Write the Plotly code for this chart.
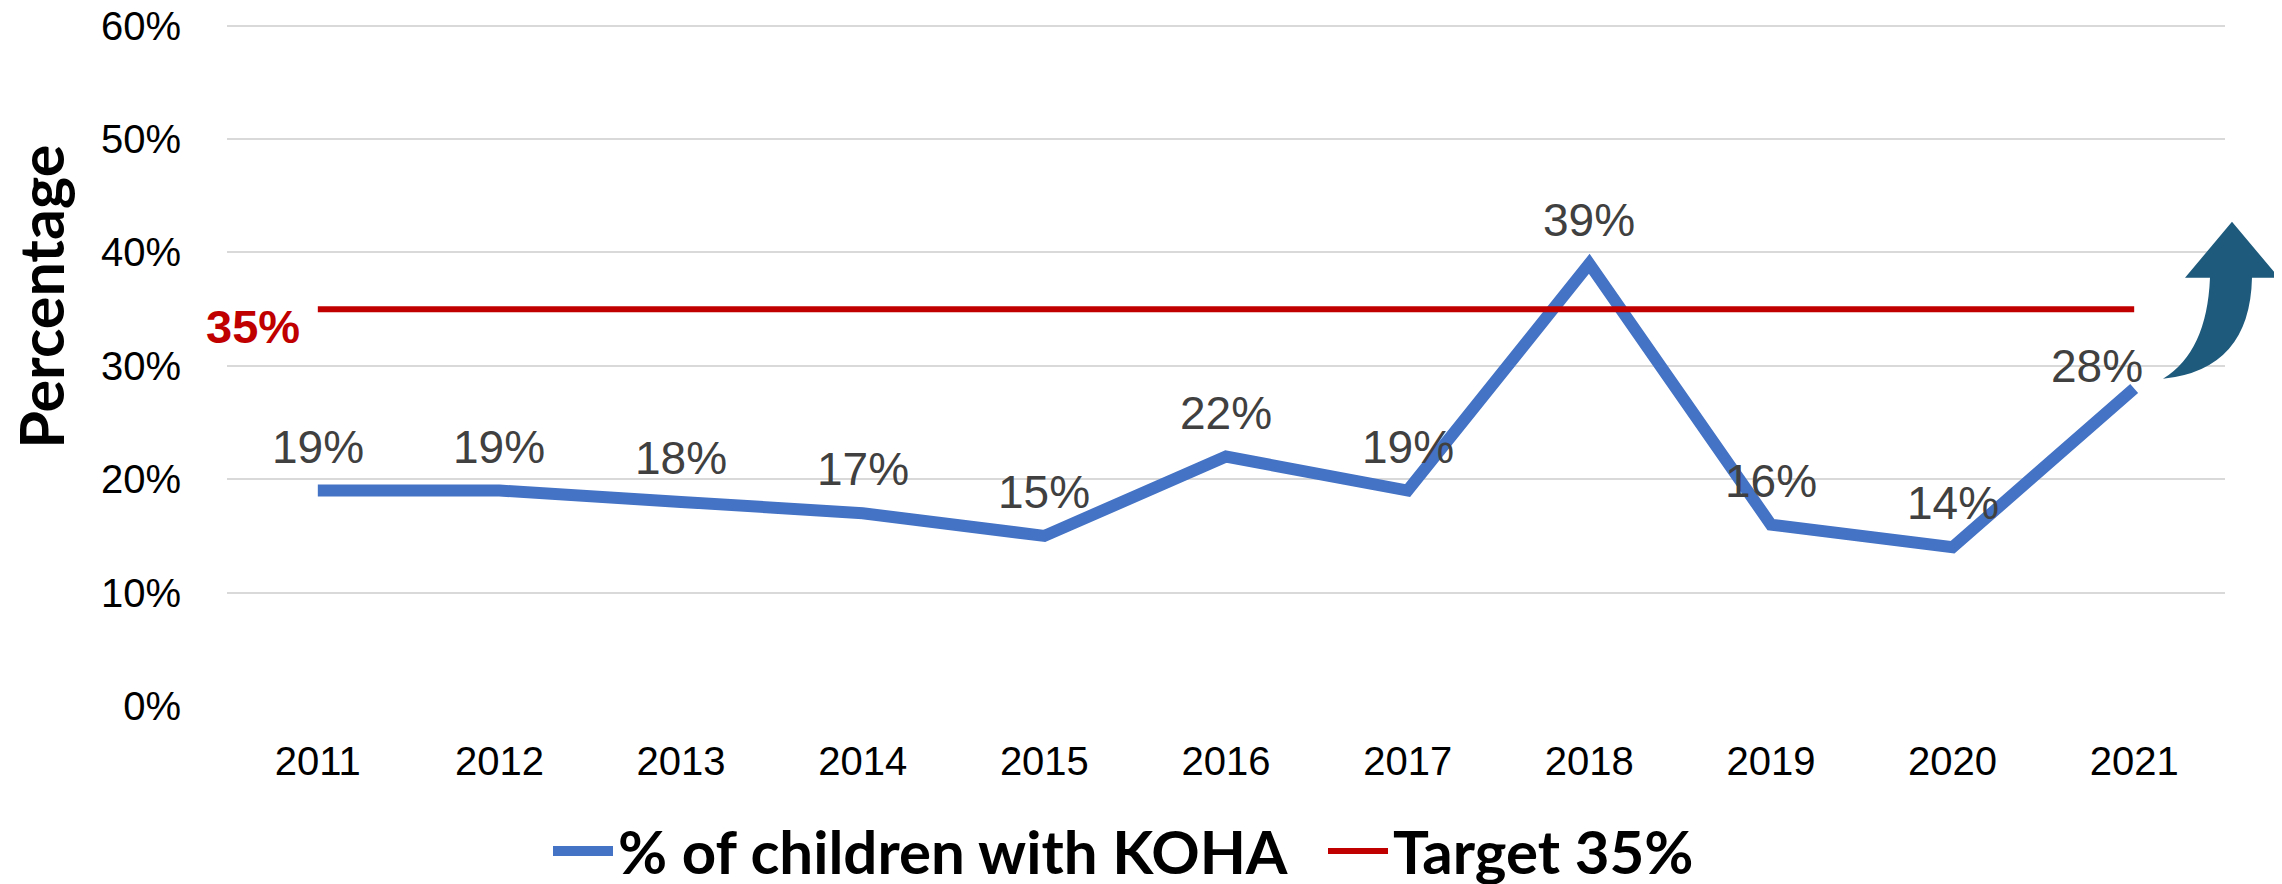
import plotly.graph_objects as go

years = [2011, 2012, 2013, 2014, 2015, 2016, 2017, 2018, 2019, 2020, 2021]
koha_pct = [19, 19, 18, 17, 15, 22, 19, 39, 16, 14, 28]
target_pct = [35] * len(years)
y_ticks = [0, 10, 20, 30, 40, 50, 60]
y_tick_labels = [f"{v}%" for v in y_ticks]

# page is 2282x884, the html body has an 8px margin -> compensate
OFF = 8
W, H = 2282 - OFF, 884 - OFF
Y_TOP = 60.5                     # a little headroom so the 60% gridline is drawn
PX_PER_UNIT = (706 - 26) / 60.0  # 0% at page y=706, 60% at page y=26
L, R, B = 227 - OFF, 57, 178
T = 26 - OFF - (Y_TOP - 60) * PX_PER_UNIT
PW, PH = W - L - R, H - T - B

def px_to_paper(px, py):
    """page pixel -> paper coordinate"""
    fx, fy = px - OFF, py - OFF
    return (fx - L) / PW, (H - B - fy) / PH

BLUE = "#4472C4"
RED = "#C00000"
ARROW = "#1D5A7C"

fig = go.Figure()
fig.add_trace(go.Scatter(
    x=years, y=koha_pct, mode="lines", name="% of children with KOHA",
    line=dict(color=BLUE, width=12), hoverinfo="x+y",
))
fig.add_trace(go.Scatter(
    x=years, y=target_pct, mode="lines", name="Target 35%",
    line=dict(color=RED, width=6), hoverinfo="x+y",
))

# data labels
for i, (yr, v) in enumerate(zip(years, koha_pct)):
    last = i == len(years) - 1
    fig.add_annotation(
        x=yr, y=v, xref="x", yref="y", text=f"{v}%", showarrow=False,
        xanchor="center", yanchor="middle",
        xshift=-37 if last else 0, yshift=23 if last else 44,
        font=dict(family="Liberation Sans, Arial", size=46, color="#404040"),
    )

# target label
fig.add_annotation(
    x=years[0], y=target_pct[0], xref="x", yref="y", text="<b>35%</b>",
    showarrow=False, xanchor="right", yanchor="middle", xshift=-16, yshift=-17,
    font=dict(family="Liberation Sans, Arial", size=47, color=RED),
)

# y axis title
tx, ty = px_to_paper(41, 297)
fig.add_annotation(
    x=tx, y=ty, xref="paper", yref="paper", text="Percentage", textangle=-90,
    showarrow=False, xanchor="center", yanchor="middle",
    font=dict(family="Lato", size=61, color="#000000", weight="bold"),
)

# curved arrow decoration
pts = {
    "tail": (2163, 379), "c1": (2207, 352), "sl": (2210, 278),
    "hl": (2185, 278), "tip": (2232, 222), "hr": (2279, 278),
    "sr": (2252, 278), "c2": (2250, 370),
}
pp = {k: px_to_paper(*v) for k, v in pts.items()}
def f(k):
    return f"{pp[k][0]:.5f},{pp[k][1]:.5f}"
path = (f"M {f('tail')} Q {f('c1')} {f('sl')} L {f('hl')} L {f('tip')} "
        f"L {f('hr')} L {f('sr')} Q {f('c2')} {f('tail')} Z")
fig.add_shape(type="path", path=path, xref="paper", yref="paper",
              fillcolor=ARROW, line=dict(width=0), layer="above")

lx, ly = px_to_paper(548, 851)
fig.update_layout(
    width=W, height=H,
    margin=dict(l=L, r=R, t=T, b=B, autoexpand=False),
    plot_bgcolor="white", paper_bgcolor="white",
    showlegend=True,
    legend=dict(
        orientation="h", x=lx, y=ly, xanchor="left", yanchor="middle",
        font=dict(family="Lato", size=60, color="#000000", weight="bold"),
        itemwidth=60, bgcolor="rgba(0,0,0,0)",
        entrywidth=700, entrywidthmode="pixels",
    ),
    xaxis=dict(
        range=[2010.5, 2021.5], tickmode="array", tickvals=years,
        ticktext=[str(y) for y in years], showgrid=False, zeroline=False,
        showline=False, ticks="", ticklabelstandoff=28,
        tickfont=dict(family="Liberation Sans, Arial", size=40, color="#000000"),
    ),
    yaxis=dict(
        range=[0, Y_TOP], tickmode="array", tickvals=y_ticks, ticktext=y_tick_labels,
        showgrid=True, gridcolor="#D9D9D9", gridwidth=2, zeroline=False,
        showline=False, ticks="", ticklabelstandoff=45, ticklabeloverflow="allow",
        tickfont=dict(family="Liberation Sans, Arial", size=40, color="#000000"),
    ),
)

fig.write_html("out.html")
